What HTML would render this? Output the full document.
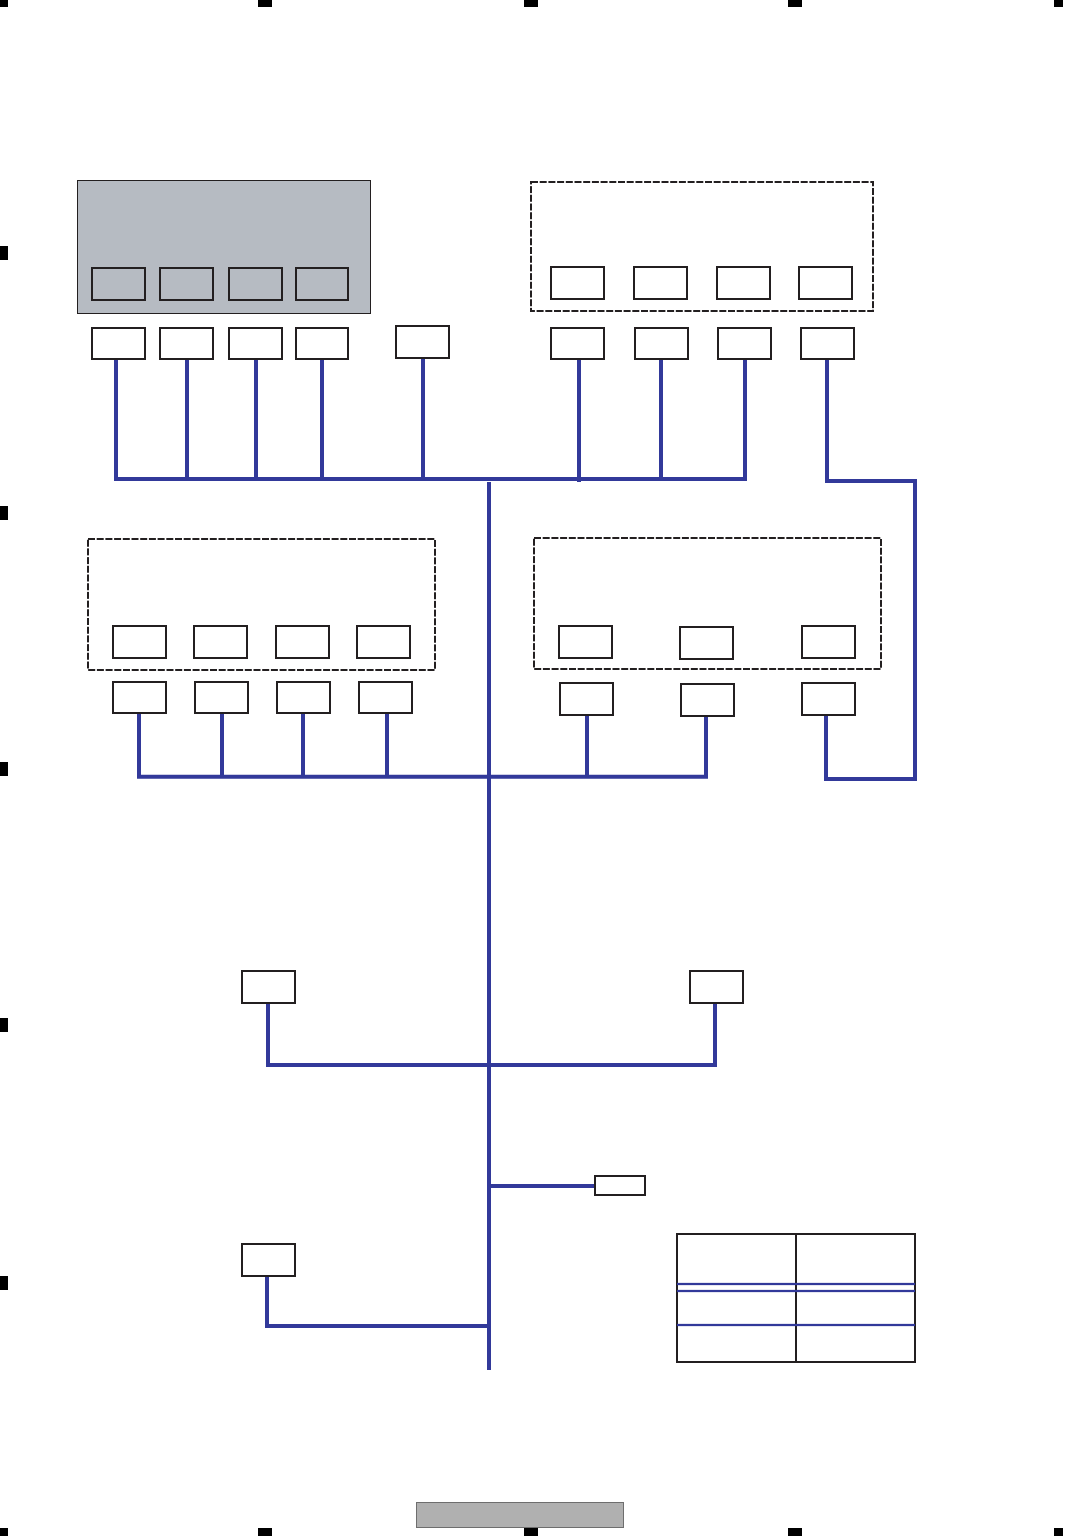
<!DOCTYPE html>
<html>
<head>
<meta charset="utf-8">
<style>
html,body{margin:0;padding:0;background:#fff;}
svg{display:block;}
.b{fill:#fff;stroke:#231f20;stroke-width:2;}
.n{fill:none;stroke:#231f20;stroke-width:2;}
.d{fill:none;stroke:#231f20;stroke-width:2;stroke-dasharray:7 1.7;}
.l{fill:none;stroke:#32399a;stroke-width:4;stroke-linecap:butt;stroke-linejoin:miter;}
.t{fill:none;stroke:#32399a;stroke-width:2.2;}
</style>
</head>
<body>
<svg width="1065" height="1536" viewBox="0 0 1065 1536" xmlns="http://www.w3.org/2000/svg">
<!-- registration marks -->
<g fill="#000">
<rect x="0" y="0" width="8" height="7"/><rect x="258" y="0" width="14" height="7"/><rect x="524" y="0" width="14" height="7"/><rect x="788" y="0" width="14" height="7"/><rect x="1054" y="0" width="9" height="7"/>
<rect x="0" y="1528" width="8" height="8"/><rect x="258" y="1528" width="14" height="8"/><rect x="524" y="1528" width="14" height="8"/><rect x="788" y="1528" width="14" height="8"/><rect x="1054" y="1528" width="9" height="8"/>
<rect x="0" y="246" width="8" height="14"/><rect x="0" y="506" width="8" height="14"/><rect x="0" y="762" width="8" height="14"/><rect x="0" y="1018" width="8" height="14"/><rect x="0" y="1276" width="8" height="14"/>
</g>
<!-- footer -->
<rect x="416.5" y="1502.5" width="207" height="25" fill="#b0b0b0" stroke="#6e6e6e" stroke-width="1"/>

<!-- gray block -->
<rect x="77.5" y="180.5" width="293" height="133" fill="#b6bbc2" stroke="#231f20" stroke-width="1"/>
<g class="n">
<rect x="92" y="268" width="53" height="32"/><rect x="160" y="268" width="53" height="32"/><rect x="229" y="268" width="53" height="32"/><rect x="296" y="268" width="52" height="32"/>
</g>

<!-- dashed groups -->
<rect class="d" x="531" y="182" width="342" height="129"/>
<rect class="d" x="88" y="539" width="347" height="131"/>
<rect class="d" x="534" y="538" width="347" height="131"/>

<!-- connectors -->
<g class="l">
<path d="M489 482V1370"/>
<path d="M114 479H747"/>
<path d="M116 360V479M187 360V479M256 360V479M322 360V479M423 359V479M579 360V482M661 360V479M745 360V479"/>
<path d="M827 360V481H915V779H826V716"/>
<path d="M137 776.8H708"/>
<path d="M139 714V776.8M222 714V776.8M303 714V776.8M387 714V776.8M587 716V776.8M706 717V776.8"/>
<path d="M268 1004V1065H715V1004"/>
<path d="M491 1186H595"/>
<path d="M267 1277V1326H488"/>
</g>

<!-- boxes -->
<g class="b">
<rect x="92" y="328" width="53" height="31"/><rect x="160" y="328" width="53" height="31"/><rect x="229" y="328" width="53" height="31"/><rect x="296" y="328" width="52" height="31"/>
<rect x="396" y="326" width="53" height="32"/>
<rect x="551" y="267" width="53" height="32"/><rect x="634" y="267" width="53" height="32"/><rect x="717" y="267" width="53" height="32"/><rect x="799" y="267" width="53" height="32"/>
<rect x="551" y="328" width="53" height="31"/><rect x="635" y="328" width="53" height="31"/><rect x="718" y="328" width="53" height="31"/><rect x="801" y="328" width="53" height="31"/>
<rect x="113" y="626" width="53" height="32"/><rect x="194" y="626" width="53" height="32"/><rect x="276" y="626" width="53" height="32"/><rect x="357" y="626" width="53" height="32"/>
<rect x="113" y="682" width="53" height="31"/><rect x="195" y="682" width="53" height="31"/><rect x="277" y="682" width="53" height="31"/><rect x="359" y="682" width="53" height="31"/>
<rect x="559" y="626" width="53" height="32"/><rect x="680" y="627" width="53" height="32"/><rect x="802" y="626" width="53" height="32"/>
<rect x="560" y="683" width="53" height="32"/><rect x="681" y="684" width="53" height="32"/><rect x="802" y="683" width="53" height="32"/>
<rect x="242" y="971" width="53" height="32"/><rect x="690" y="971" width="53" height="32"/>
<rect x="595" y="1176" width="50" height="19"/>
<rect x="242" y="1244" width="53" height="32"/>
</g>

<!-- table -->
<rect class="n" x="677" y="1234" width="238" height="128"/>
<path class="n" d="M796 1234V1362"/>
<path class="t" d="M677 1284H915M677 1291H915M677 1325H915"/>
</svg>
</body>
</html>
